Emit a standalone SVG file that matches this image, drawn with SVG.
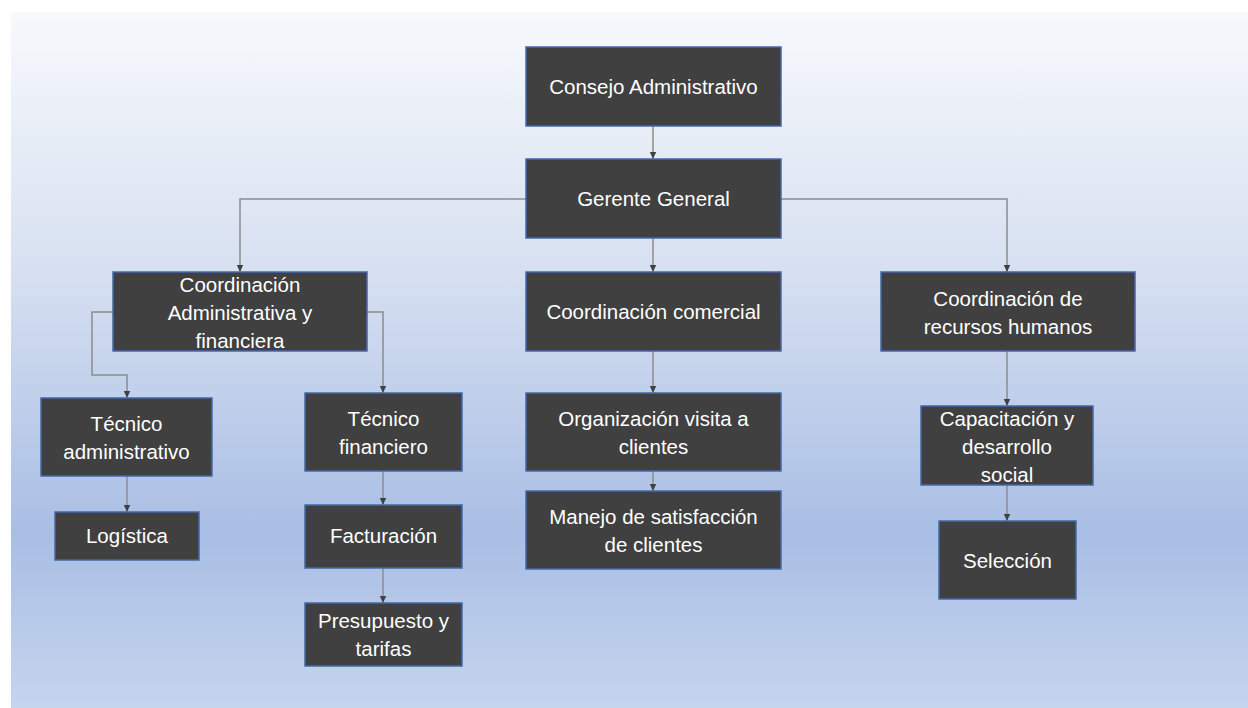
<svg xmlns="http://www.w3.org/2000/svg" width="1248" height="708" viewBox="0 0 1248 708">
<defs>
<linearGradient id="bg" x1="0" y1="0" x2="0" y2="1">
<stop offset="0" stop-color="#f7f9fc"/>
<stop offset="0.35" stop-color="#d9e2f2"/>
<stop offset="0.75" stop-color="#a9bee4"/>
<stop offset="1" stop-color="#c6d5ee"/>
</linearGradient>
<marker id="arr" markerUnits="userSpaceOnUse" markerWidth="8" markerHeight="8" refX="7" refY="4" orient="auto">
<path d="M0,0.8 L7,4 L0,7.2 z" fill="#404040"/>
</marker>
<style>
.box{fill:#404040;stroke:#4468a8;stroke-width:1.5}
.t{font-family:"Liberation Sans",Arial,sans-serif;font-size:20.5px;fill:#ffffff;text-anchor:middle}
.c{fill:none;stroke:#8c8c8c;stroke-width:1.5;marker-end:url(#arr)}
</style>
</defs>
<rect x="0" y="0" width="1248" height="708" fill="#ffffff"/>
<rect x="11" y="12" width="1237" height="696" fill="url(#bg)"/>

<g id="connectors">
<path class="c" d="M653,126 V159"/>
<path class="c" d="M526,199 H240 V272"/>
<path class="c" d="M653,238 V272"/>
<path class="c" d="M781,199 H1007 V272"/>
<path class="c" d="M113,312 H92 V375 H127 V398"/>
<path class="c" d="M367,312 H383 V393"/>
<path class="c" d="M127,476 V512"/>
<path class="c" d="M383,471 V505"/>
<path class="c" d="M383,568 V603"/>
<path class="c" d="M653,351 V393"/>
<path class="c" d="M653,471 V491"/>
<path class="c" d="M1007,351 V406"/>
<path class="c" d="M1007,485 V521"/>
</g>

<g id="consejo">
<rect class="box" x="526" y="47" width="255" height="79"/>
<text class="t" x="653.5" y="94">Consejo Administrativo</text>
</g>
<g id="gerente">
<rect class="box" x="526" y="159" width="255" height="79"/>
<text class="t" x="653.5" y="206">Gerente General</text>
</g>
<g id="coord-adm">
<rect class="box" x="113" y="272" width="254" height="79"/>
<text class="t" x="240" y="292">Coordinación</text>
<text class="t" x="240" y="320">Administrativa y</text>
<text class="t" x="240" y="348">financiera</text>
</g>
<g id="coord-comercial">
<rect class="box" x="526" y="272" width="255" height="79"/>
<text class="t" x="653.5" y="319">Coordinación comercial</text>
</g>
<g id="coord-rrhh">
<rect class="box" x="881" y="272" width="254" height="79"/>
<text class="t" x="1008" y="306">Coordinación de</text>
<text class="t" x="1008" y="334">recursos humanos</text>
</g>
<g id="tecnico-adm">
<rect class="box" x="41" y="398" width="171" height="78"/>
<text class="t" x="126.5" y="431">Técnico</text>
<text class="t" x="126.5" y="459">administrativo</text>
</g>
<g id="logistica">
<rect class="box" x="55" y="512" width="144" height="48"/>
<text class="t" x="127" y="543">Logística</text>
</g>
<g id="tecnico-fin">
<rect class="box" x="305" y="393" width="157" height="78"/>
<text class="t" x="383.5" y="426">Técnico</text>
<text class="t" x="383.5" y="454">financiero</text>
</g>
<g id="facturacion">
<rect class="box" x="305" y="505" width="157" height="63"/>
<text class="t" x="383.5" y="543">Facturación</text>
</g>
<g id="presupuesto">
<rect class="box" x="305" y="603" width="157" height="63"/>
<text class="t" x="383.5" y="628">Presupuesto y</text>
<text class="t" x="383.5" y="656">tarifas</text>
</g>
<g id="organizacion">
<rect class="box" x="526" y="393" width="255" height="78"/>
<text class="t" x="653.5" y="426">Organización visita a</text>
<text class="t" x="653.5" y="454">clientes</text>
</g>
<g id="manejo">
<rect class="box" x="526" y="491" width="255" height="78"/>
<text class="t" x="653.5" y="524">Manejo de satisfacción</text>
<text class="t" x="653.5" y="552">de clientes</text>
</g>
<g id="capacitacion">
<rect class="box" x="921" y="406" width="172" height="79"/>
<text class="t" x="1007" y="426">Capacitación y</text>
<text class="t" x="1007" y="454">desarrollo</text>
<text class="t" x="1007" y="482">social</text>
</g>
<g id="seleccion">
<rect class="box" x="939" y="521" width="137" height="78"/>
<text class="t" x="1007.5" y="568">Selección</text>
</g>
</svg>
